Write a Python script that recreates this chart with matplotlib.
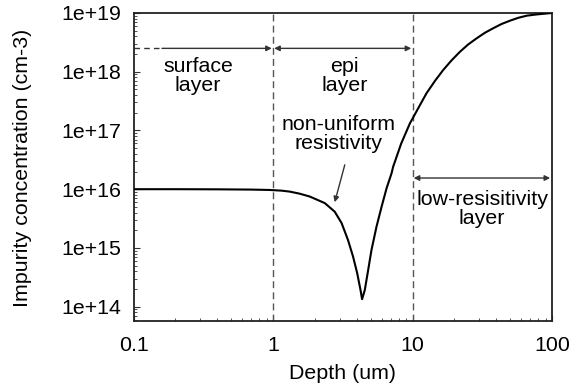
import numpy as np
import matplotlib.pyplot as plt
from matplotlib.ticker import LogLocator, FixedLocator, FixedFormatter, NullFormatter

plt.rcParams['font.family'] = ['Liberation Sans', 'DejaVu Sans']

# doping profile (depth in um, concentration in cm-3)
depth = [0.1, 0.2, 0.4, 0.7, 0.947, 1.15, 1.318, 1.55, 1.834, 2.35, 2.77, 3.10,
         3.45, 3.75, 4.01, 4.24, 4.35, 4.55, 4.81, 5.08, 5.52, 6.0, 6.52, 7.08,
         7.26, 8.3, 9.58, 11.0, 12.6, 14.5, 16.6, 19.0, 21.9, 25.0, 28.8,
         33.0, 37.9, 43.5, 50.0, 57.5, 65.9, 76.0, 86.9, 100.0]
conc = [1.0e16, 1.0e16, 9.95e15, 9.85e15, 9.7e15, 9.45e15, 9.1e15, 8.4e15,
        7.5e15, 5.8e15, 4.14e15, 2.66e15, 1.36e15, 7.1e14, 3.75e14, 1.92e14,
        1.34e14, 1.92e14, 4.2e14, 9.2e14, 2.3e15, 5.0e15, 1.04e16, 1.87e16,
        2.4e16, 6.0e16, 1.32e17, 2.4e17, 4.3e17, 7.0e17, 1.07e18, 1.55e18,
        2.19e18, 2.9e18, 3.7e18, 4.6e18, 5.5e18, 6.5e18, 7.4e18, 8.3e18,
        9.0e18, 9.4e18, 9.7e18, 1.0e19]

xticks = [0.1, 1, 10, 100]
xticklabels = ['0.1', '1', '10', '100']
yticks = [1e14, 1e15, 1e16, 1e17, 1e18, 1e19]
yticklabels = ['1e+14', '1e+15', '1e+16', '1e+17', '1e+18', '1e+19']

layer_edges = [1, 10]
arrow_y = 2.5e18
low_arrow_y = 1.55e16

fig = plt.figure(figsize=(5.73, 3.92), dpi=100)
ax = fig.add_axes([133.5 / 573, 1 - 321 / 392, 418.5 / 573, 308 / 392])

ax.plot(depth, conc, color='black', lw=1.5, zorder=3)
ax.set_xscale('log')
ax.set_yscale('log')
ax.set_xlim(0.1, 100)
ax.set_ylim(5.7e13, 1e19)

for xe in layer_edges:
    ax.axvline(xe, color='#555555', lw=1.0, ls=(0, (5, 3)), zorder=2)

# range arrows
arrow_kw = dict(color='#333333', lw=1.0, mutation_scale=8, shrinkA=0, shrinkB=0)
ax.plot([0.1, 0.16], [arrow_y, arrow_y], color='#333333', lw=1.0, ls=(0, (4, 3)))
ax.annotate('', xy=(0.98, arrow_y), xytext=(0.16, arrow_y),
            arrowprops=dict(arrowstyle='-|>', **arrow_kw))
ax.annotate('', xy=(9.8, arrow_y), xytext=(1.02, arrow_y),
            arrowprops=dict(arrowstyle='<|-|>', **arrow_kw))
ax.annotate('', xy=(97, low_arrow_y), xytext=(10.2, low_arrow_y),
            arrowprops=dict(arrowstyle='<|-|>', **arrow_kw))
ax.annotate('', xy=(2.77, 6.0e15), xytext=(3.27, 2.6e16),
            arrowprops=dict(arrowstyle='-|>', **arrow_kw))

fs = 15.4
ax.text(0.29, 8.5e17, 'surface\nlayer', ha='center', va='center', fontsize=fs,
        linespacing=1.0)
ax.text(3.24, 8.5e17, 'epi\nlayer', ha='center', va='center', fontsize=fs,
        linespacing=1.0)
ax.text(2.94, 8.7e16, 'non-uniform\nresistivity', ha='center', va='center',
        fontsize=fs, linespacing=1.0)
ax.text(31.5, 4.6e15, 'low-resisitivity\nlayer', ha='center', va='center',
        fontsize=fs, linespacing=1.0)

ax.xaxis.set_major_locator(FixedLocator(xticks))
ax.xaxis.set_major_formatter(FixedFormatter(xticklabels))
ax.xaxis.set_minor_locator(LogLocator(base=10, subs=np.arange(2, 10)))
ax.xaxis.set_minor_formatter(NullFormatter())
ax.yaxis.set_major_locator(FixedLocator(yticks))
ax.yaxis.set_major_formatter(FixedFormatter(yticklabels))
ax.yaxis.set_minor_locator(LogLocator(base=10, subs=np.arange(2, 10)))
ax.yaxis.set_minor_formatter(NullFormatter())

ax.tick_params(which='both', direction='in', top=False, right=False,
               color='#333333', labelsize=fs)
ax.tick_params(which='major', length=4, width=0.8)
ax.tick_params(which='minor', length=2, width=0.6)
ax.tick_params(axis='x', pad=11)
ax.tick_params(axis='y', pad=9)

for sp in ax.spines.values():
    sp.set_color('#222222')
    sp.set_linewidth(1.3)

ax.set_xlabel('Depth (um)', fontsize=fs)
ax.set_ylabel('Impurity concentration (cm-3)', fontsize=fs)
ax.xaxis.set_label_coords(0.5, -0.14)
ax.yaxis.set_label_coords(-0.243, 0.497)

fig.savefig('out.png', dpi=100)
